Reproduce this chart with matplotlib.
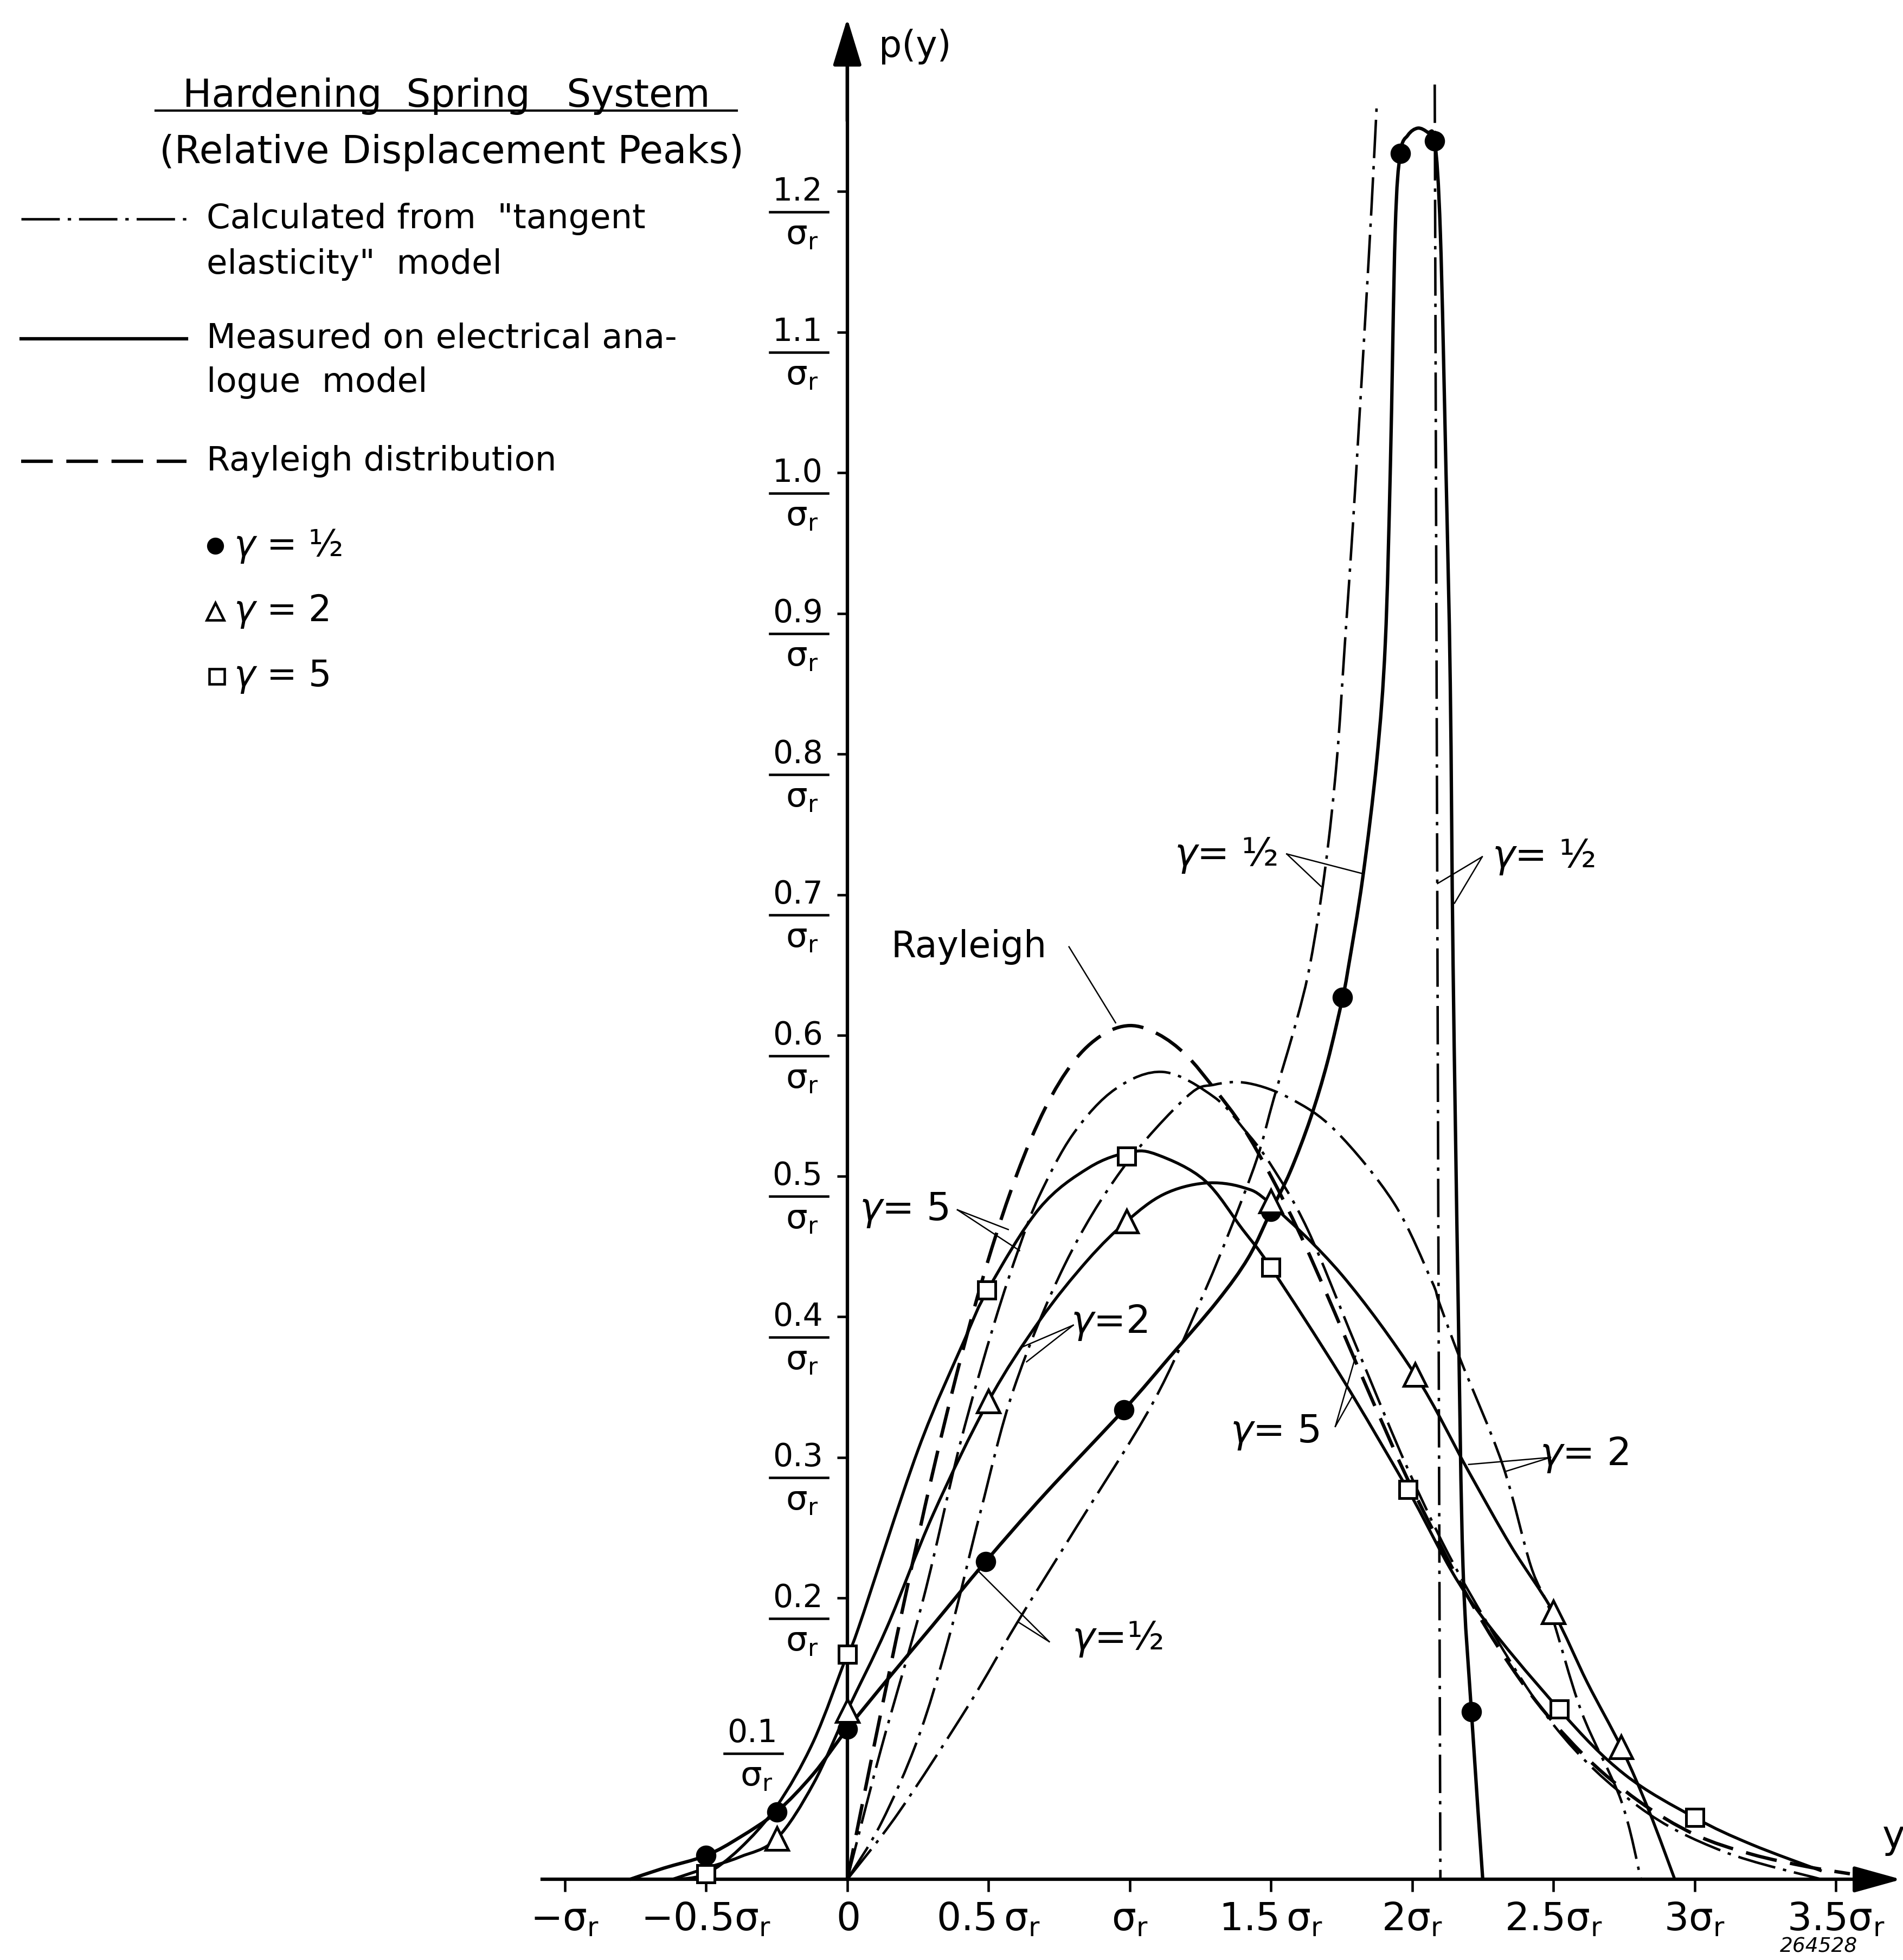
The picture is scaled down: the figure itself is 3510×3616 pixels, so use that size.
import matplotlib
matplotlib.use('Agg')
import matplotlib.pyplot as plt
from matplotlib.path import Path
from matplotlib.patches import PathPatch

plt.rcParams['font.family'] = ['DejaVu Sans']
plt.rcParams['mathtext.fontset'] = 'dejavusans'
plt.rcParams['lines.scale_dashes'] = False

# ---- data (y in units of sigma_r, p(y) in units of 1/sigma_r) ----
# measured on electrical analogue model (solid)
m05_x = [-0.77, -0.65, -0.5, -0.38, -0.25, -0.12, 0.0, 0.15, 0.3, 0.49, 0.7, 0.98, 1.14, 1.31, 1.42, 1.5,
         1.568, 1.64, 1.70, 1.754, 1.773, 1.825, 1.875, 1.905, 1.923, 1.94, 1.958, 1.985, 2.02, 2.055, 2.08,
         2.1, 2.12, 2.135, 2.145, 2.163, 2.18, 2.21, 2.25]
m05_y = [0.0, 0.008, 0.017, 0.03, 0.048, 0.075, 0.107, 0.144, 0.18, 0.226, 0.274, 0.334, 0.371, 0.411, 0.442, 0.475,
         0.503, 0.541, 0.581, 0.627, 0.647, 0.712, 0.796, 0.879, 1.005, 1.172, 1.227, 1.24, 1.245, 1.242, 1.236,
         1.17, 1.0, 0.85, 0.65, 0.41, 0.223, 0.119, 0.0]
m2_x = [-0.62, -0.5, -0.38, -0.25, -0.12, 0.0, 0.14, 0.305, 0.5, 0.68, 0.85, 0.99, 1.12, 1.265, 1.4, 1.5,
        1.75, 2.01, 2.2, 2.35, 2.5, 2.62, 2.74, 2.84, 2.93]
m2_y = [0.0, 0.008, 0.016, 0.029, 0.068, 0.12, 0.179, 0.26, 0.34, 0.397, 0.44, 0.468, 0.487, 0.495, 0.492, 0.48,
        0.43, 0.359, 0.29, 0.237, 0.19, 0.14, 0.094, 0.048, 0.0]
m5_x = [-0.6, -0.5, -0.38, -0.25, -0.12, 0.0, 0.04, 0.25, 0.416, 0.5, 0.68, 0.856, 1.0, 1.1, 1.265, 1.4, 1.5,
        1.75, 1.985, 2.2, 2.52, 2.75, 3.0, 3.2, 3.45]
m5_y = [0.0, 0.004, 0.022, 0.052, 0.098, 0.16, 0.179, 0.305, 0.384, 0.42, 0.477, 0.506, 0.517, 0.515, 0.497, 0.462, 0.435,
        0.357, 0.277, 0.2, 0.121, 0.075, 0.044, 0.025, 0.006]

# measured points (markers)
p05_x = [-0.5, -0.25, 0.0, 0.49, 0.98, 1.5, 1.754, 1.958, 2.08, 2.21]
p05_y = [0.017, 0.048, 0.107, 0.226, 0.334, 0.475, 0.627, 1.227, 1.236, 0.119]
p2_x = [-0.25, 0.0, 0.5, 0.99, 1.5, 2.01, 2.5, 2.74]
p2_y = [0.029, 0.12, 0.34, 0.468, 0.482, 0.359, 0.19, 0.094]
p5_x = [-0.5, 0.0, 0.493, 0.99, 1.5, 1.985, 2.52, 3.0]
p5_y = [0.004, 0.16, 0.419, 0.514, 0.435, 0.277, 0.121, 0.044]

# calculated from "tangent elasticity" model (dash-dot)
c05_x = [0.0, 0.18, 0.43, 0.6, 0.81, 1.08, 1.25, 1.35, 1.45, 1.51, 1.59, 1.64, 1.693, 1.733, 1.762, 1.79,
         1.812, 1.835, 1.856, 1.875]
c05_y = [0.0, 0.047, 0.124, 0.182, 0.25, 0.338, 0.411, 0.459, 0.512, 0.555, 0.61, 0.652, 0.72, 0.795, 0.879, 0.962,
         1.035, 1.113, 1.188, 1.263]
c05r_x = [2.08, 2.10]
c05r_y = [1.276, 0.0]
c2_x = [0.0, 0.12, 0.25, 0.36, 0.47, 0.59, 0.77, 0.97, 1.2, 1.3, 1.42, 1.57, 1.73, 1.935, 2.068, 2.096,
        2.17, 2.32, 2.42, 2.49, 2.6, 2.74, 2.81]
c2_y = [0.0, 0.04, 0.1, 0.172, 0.26, 0.349, 0.437, 0.504, 0.556, 0.565, 0.566, 0.555, 0.532, 0.481, 0.426, 0.41,
        0.37, 0.295, 0.223, 0.19, 0.119, 0.056, 0.0]
c5_x = [0.0, 0.12, 0.27, 0.4, 0.52, 0.61, 0.68, 0.8, 0.95, 1.12, 1.3, 1.41, 1.5, 1.63, 1.8, 2.0, 2.2, 2.5,
        2.8, 3.1, 3.45]
c5_y = [0.0, 0.093, 0.2, 0.31, 0.395, 0.45, 0.486, 0.53, 0.562, 0.574, 0.556, 0.532, 0.508, 0.462, 0.38, 0.285,
        0.205, 0.11, 0.052, 0.02, 0.0]

# Rayleigh distribution (dashed)
ray_x = [0.0, 0.1, 0.2, 0.3, 0.4, 0.5, 0.6, 0.7, 0.8, 0.9, 1.0, 1.1, 1.2, 1.3, 1.4, 1.5, 1.6, 1.7, 1.8, 1.9,
         2.0, 2.2, 2.4, 2.6, 2.8, 3.0, 3.2, 3.4, 3.55]
ray_y = [0.0, 0.1, 0.196, 0.287, 0.369, 0.441, 0.501, 0.548, 0.581, 0.6, 0.607, 0.601, 0.586, 0.562, 0.535, 0.50,
         0.46, 0.415, 0.368, 0.322, 0.278, 0.2, 0.137, 0.09, 0.056, 0.032, 0.018, 0.009, 0.004]

xticks = [-1.0, -0.5, 0.0, 0.5, 1.0, 1.5, 2.0, 2.5, 3.0, 3.5]
xlabels = [r'$\mathrm{-\sigma_r}$', r'$\mathrm{-0.5\sigma_r}$', r'$\mathrm{0}$', r'$\mathrm{0.5\,\sigma_r}$',
           r'$\mathrm{\sigma_r}$', r'$\mathrm{1.5\,\sigma_r}$', r'$\mathrm{2\sigma_r}$', r'$\mathrm{2.5\sigma_r}$',
           r'$\mathrm{3\sigma_r}$', r'$\mathrm{3.5\sigma_r}$']
yticks = [0.2, 0.3, 0.4, 0.5, 0.6, 0.7, 0.8, 0.9, 1.0, 1.1, 1.2]
ylabels = ['0.2', '0.3', '0.4', '0.5', '0.6', '0.7', '0.8', '0.9', '1.0', '1.1', '1.2']

DASHDOT = (0, (17, 3.5, 1.5, 3.5))
DASHED = (0, (14, 6))

fig = plt.figure(figsize=(11.7, 3616 / 300), dpi=300)
ax = fig.add_axes([0, 0, 1, 1])
ax.set_xlim(-3.0, 3.738)
ax.set_ylim(-0.0573, 1.3361)


def curve(xs, ys, **kw):
    # smooth drafting-style curve through the read points (cubic Bezier segments)
    pts = list(zip(xs, ys))
    n = len(pts)
    verts = [pts[0]]
    codes = [Path.MOVETO]
    for i in range(n - 1):
        p0 = pts[i - 1] if i > 0 else pts[i]
        p1, p2 = pts[i], pts[i + 1]
        p3 = pts[i + 2] if i + 2 < n else pts[i + 1]
        c1 = (p1[0] + (p2[0] - p0[0]) / 6, p1[1] + (p2[1] - p0[1]) / 6)
        c2 = (p2[0] - (p3[0] - p1[0]) / 6, p2[1] - (p3[1] - p1[1]) / 6)
        verts += [c1, c2, p2]
        codes += [Path.CURVE4] * 3
    ax.add_patch(PathPatch(Path(verts, codes), fill=False, edgecolor='k', **kw))


def frac(x_right, y, num, size=14):
    # stacked "num / sigma_r" label; numerator centred on y
    ax.text(x_right - 0.012, y, num, ha='right', va='center', fontsize=size)
    ax.plot([x_right - 0.2, x_right + 0.006], [y - 0.0145, y - 0.0145], color='k', lw=1.1)
    ax.text(x_right - 0.085, y - 0.031, r'$\mathrm{\sigma_r}$', ha='center', va='center', fontsize=size + 1)


# axes through the origin
for s in ['top', 'right']:
    ax.spines[s].set_visible(False)
ax.spines['left'].set_position(('data', 0))
ax.spines['bottom'].set_position(('data', 0))
ax.spines['left'].set_bounds(0, 1.30)
ax.spines['bottom'].set_bounds(-1.08, 3.70)
ax.spines['left'].set_linewidth(1.5)
ax.spines['bottom'].set_linewidth(1.5)
ax.set_xticks(xticks, xlabels)
ax.set_yticks(yticks, [''] * len(yticks))
ax.tick_params(axis='x', direction='out', length=5.5, width=1.1, pad=4, labelsize=17)
ax.tick_params(axis='y', direction='out', length=4.6, width=1.1)

ax.annotate('', xy=(0, 1.323), xytext=(0, 1.25),
            arrowprops=dict(arrowstyle='-|>,head_length=1.8,head_width=0.55', mutation_scale=10,
                            color='k', lw=1.5, shrinkA=0, shrinkB=0))
ax.annotate('', xy=(3.732, 0), xytext=(3.6, 0),
            arrowprops=dict(arrowstyle='-|>,head_length=1.8,head_width=0.5', mutation_scale=10,
                            color='k', lw=1.5, shrinkA=0, shrinkB=0))

# y labels as fractions
for v, lab in zip(yticks, ylabels):
    frac(-0.075, v, lab)
frac(-0.236, 0.104, '0.1')

ax.text(0.111, 1.303, 'p(y)', ha='left', va='center', fontsize=16)
ax.text(3.665, 0.03, 'y', ha='left', va='center', fontsize=17)
ax.text(3.44, -0.048, '264528', ha='center', va='center', fontsize=9, style='italic')

# curves
curve(c05_x, c05_y, ls=DASHDOT, lw=1.1)
curve(c05r_x, c05r_y, ls=DASHDOT, lw=1.1)
curve(c2_x, c2_y, ls=DASHDOT, lw=1.1)
curve(c5_x, c5_y, ls=DASHDOT, lw=1.1)
curve(ray_x, ray_y, ls=DASHED, lw=1.5)
curve(m05_x, m05_y, lw=1.5)
curve(m2_x, m2_y, lw=1.3)
curve(m5_x, m5_y, lw=1.3)

ax.plot(p05_x, p05_y, ls='none', marker='o', ms=8, mfc='k', mec='k', zorder=5)
ax.plot(p2_x, p2_y, ls='none', marker='^', ms=10, mfc='white', mec='k', mew=1.2, zorder=5)
ax.plot(p5_x, p5_y, ls='none', marker='s', ms=7.5, mfc='white', mec='k', mew=1.2, zorder=5)


# curve labels with leader lines
def label(txt, pos, start, ends, size=17):
    ax.text(pos[0], pos[1], txt, ha='center', va='center', fontsize=size)
    for e in ends:
        ax.plot([start[0], e[0]], [start[1], e[1]], color='k', lw=0.6)


label('Rayleigh', (0.431, 0.663), (0.785, 0.663), [(0.95, 0.609)], size=16)
label(r'$\gamma$= 5', (0.20, 0.476), (0.39, 0.476), [(0.57, 0.462), (0.61, 0.447)])
label(r'$\gamma$=2', (0.927, 0.396), (0.80, 0.394), [(0.614, 0.378), (0.635, 0.368)])
label(r'$\gamma$=½', (0.956, 0.171), (0.715, 0.169), [(0.46, 0.22), (0.605, 0.183)])
label(r'$\gamma$= ½', (1.34, 0.728), (1.556, 0.729), [(1.677, 0.706), (1.825, 0.715)])
label(r'$\gamma$= ½', (2.466, 0.727), (2.248, 0.727), [(2.09, 0.708), (2.15, 0.694)])
label(r'$\gamma$= 5', (1.514, 0.318), (1.728, 0.322), [(1.787, 0.343), (1.80, 0.372)])
label(r'$\gamma$= 2', (2.61, 0.302), (2.49, 0.30), [(2.2, 0.295), (2.33, 0.29)])

# title and legend block
ax.text(-1.419, 1.2677, 'Hardening  Spring   System', ha='center', va='center', fontsize=17)
ax.plot([-2.449, -0.392], [1.2575, 1.2575], color='k', lw=1.0)
ax.text(-1.401, 1.2276, '(Relative Displacement Peaks)', ha='center', va='center', fontsize=17)

lx = [-2.926, -2.34]
ax.plot(lx, [1.1806, 1.1806], ls=DASHDOT, lw=1.1, color='k')
ax.plot(lx, [1.0952, 1.0952], lw=1.5, color='k')
ax.plot(lx, [1.008, 1.008], ls=DASHED, lw=1.5, color='k')
tx = -2.269
ax.text(tx, 1.1806, 'Calculated from  "tangent', ha='left', va='center', fontsize=15)
ax.text(tx, 1.148, 'elasticity"  model', ha='left', va='center', fontsize=15)
ax.text(tx, 1.0952, 'Measured on electrical ana-', ha='left', va='center', fontsize=15)
ax.text(tx, 1.064, 'logue  model', ha='left', va='center', fontsize=15)
ax.text(tx, 1.008, 'Rayleigh distribution', ha='left', va='center', fontsize=15)

ax.plot([-2.237], [0.948], ls='none', marker='o', ms=6.5, mfc='k', mec='k')
ax.plot([-2.237], [0.9015], ls='none', marker='^', ms=7.5, mfc='white', mec='k', mew=1.1)
ax.plot([-2.232], [0.855], ls='none', marker='s', ms=6.5, mfc='white', mec='k', mew=1.1)
ax.text(-2.172, 0.948, r'$\gamma$ = ½', ha='left', va='center', fontsize=16)
ax.text(-2.172, 0.9015, r'$\gamma$ = 2', ha='left', va='center', fontsize=16)
ax.text(-2.172, 0.855, r'$\gamma$ = 5', ha='left', va='center', fontsize=16)

fig.savefig('out.png', dpi=300)
plt.close()
